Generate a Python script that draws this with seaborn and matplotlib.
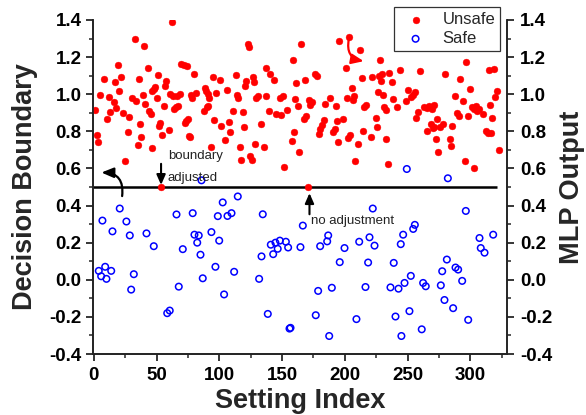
import matplotlib
matplotlib.use("Agg")
import matplotlib.pyplot as plt
import seaborn as sns
import pandas as pd

# ---------------- data ----------------
unsafe_x = [0.6, 2.2, 3.2, 4.8, 8, 10.7, 12, 13, 16, 16.7, 18, 19, 20.2, 22, 22.9, 25, 27, 27.9, 30.6, 32.7,
            34, 35, 36.2, 37, 38, 39, 39.8, 41.2, 43, 43.8, 45.2, 46, 46.5, 47.8, 49.1, 50, 51, 52.3, 53.1, 53.9,
            54.7, 55.8, 57.1, 57.9, 60, 61.1, 62.7, 63.7, 65.3, 66.9, 63.2, 66.0, 68.5, 69.6, 71.7, 74.4, 72.5, 73.8, 74.9, 76,
            77, 77.2, 78.4, 79.6, 81.8, 87.6, 90.3, 91.1, 88.4, 89, 91.1, 91.9, 93, 94.8, 95.6, 97.7, 100.9, 101.7, 104.9, 105.9,
            107.8, 108.9, 110.7, 112.9, 113.7, 114.7, 116.8, 117.6, 118.7, 119.5, 120.8, 121.6, 122.7, 123.8, 124.8, 125.8, 126.6, 127.7,
            128.5, 129.6, 130.6, 132.8, 135.7, 136.8, 137.5, 139.4, 140.7, 143.4, 145.5, 149.2, 148.5, 150.8, 151.9, 153.7, 157.5, 158.5,
            159.8, 160.6, 161.4, 162.8, 163.8, 165.2, 167.6, 168.8, 168.6, 170.4, 171.2, 172.6, 173.9, 175.8, 177.9, 179.2, 180.5, 181.9,
            183.2, 184.5, 188.5, 190.3, 191.9, 192.7, 193.8, 194.3, 195.1, 198.6, 200.5, 201.5, 202.3, 203.9, 203.6, 206, 206.6, 207.6,
            208.4, 210.8, 212.4, 213.4, 214.6, 215.6, 216.6, 220.4, 221.4, 224.6, 225.7, 226.5, 227.3, 228.9, 229.9, 228.3, 230.2, 231,
            232.9, 232.6, 234.2, 235.5, 237.3, 238.5, 241.6, 243.7, 248.5, 250.1, 252.8, 254.4, 256.2, 257, 258, 260.2, 262.9, 265,
            267.2, 269.2, 271.3, 265.5, 268.2, 269.8, 271.3, 272.4, 273.5, 274.3, 276.1, 278.3, 280.1, 283.5, 284.7, 285.4, 287.3, 288.9,
            290.7, 292, 294.2, 295.5, 296.8, 298.2, 299.4, 301.4, 303.2, 304.6, 305.4, 306.6, 310.1, 303.2, 312, 313.8, 316.7, 314.6,
            319.1, 315.4, 317.3, 319.9, 321.3, 322.6]
unsafe_y = [0.916, 0.782, 0.742, 0.997, 1.082, 0.867, 0.984, 0.903, 0.957, 1.067, 0.927, 1.158, 1.015, 1.091, 0.899, 0.641, 0.794, 0.879, 0.981, 1.299,
            0.966, 0.729, 1.082, 0.84, 0.767, 0.995, 1.259, 0.948, 1.143, 0.912, 0.894, 0.71, 1.017, 1.03, 1.038, 0.979, 1.102, 0.831, 0.843, 0.5,
            0.78, 0.939, 1.042, 1.069, 0.809, 1.0, 1.39, 0.921, 0.93, 0.937, 0.99, 0.992, 1.003, 1.165, 1.158, 1.151, 0.845, 0.858, 0.865, 0.775,
            0.771, 0.997, 0.979, 1.111, 1.007, 0.912, 0.93, 0.934, 1.035, 1.02, 0.999, 0.977, 0.717, 1.091, 0.861, 1.007, 1.075, 0.829, 0.753, 1.022,
            0.851, 0.798, 0.91, 1.103, 0.997, 0.981, 0.713, 0.645, 0.903, 0.821, 1.042, 1.071, 1.268, 1.252, 0.668, 0.648, 1.093, 1.068,
            0.734, 0.979, 0.993, 0.84, 0.717, 0.993, 1.141, 0.908, 1.111, 1.075, 0.894, 0.89, 0.981, 0.988, 0.608, 0.916, 0.749, 1.183,
            0.794, 0.973, 1.062, 0.937, 0.691, 1.273, 0.865, 0.885, 1.075, 0.5, 0.971, 0.943, 0.957, 1.107, 1.096, 0.786, 0.813, 0.836,
            0.861, 0.948, 0.981, 0.794, 0.813, 0.934, 0.858, 0.74, 1.286, 0.865, 1.141, 0.981, 0.764, 0.782, 1.31, 1.033, 0.971, 0.988,
            0.641, 0.731, 1.237, 1.089, 0.803, 0.93, 0.944, 0.767, 1.091, 0.872, 0.821, 1.01, 1.1, 1.071, 1.107, 1.187, 0.997, 0.93,
            0.916, 0.76, 0.625, 1.114, 1.067, 0.973, 0.93, 1.133, 0.962, 1.024, 0.984, 0.995, 1.011, 0.872, 0.903, 1.127, 0.93, 0.926,
            0.934, 0.919, 0.941, 0.8, 0.84, 0.818, 0.825, 0.758, 0.867, 0.686, 0.825, 0.84, 1.107, 0.758, 0.72, 0.827, 0.992, 0.901,
            0.883, 1.082, 0.966, 0.641, 1.176, 0.883, 1.027, 0.93, 0.921, 0.934, 0.907, 0.919, 0.894, 0.604, 0.8, 0.793, 0.789, 1.13,
            1.136, 0.943, 0.872, 0.984, 1.017, 0.70]

safe_x = [4, 5.9, 6.9, 9.1, 10.1, 13.9, 14.9, 20.7, 26, 28.7, 29.8, 31.9, 42, 47.8, 58.5, 60.5, 65.9, 67.7, 70.9, 78.8,
          80.2, 83.6, 82.4, 85, 85.8, 86.8, 93.7, 96.9, 98.8, 99.9, 102.7, 103.8, 106.5, 109.7, 111.8, 114.7, 131.7, 133.6, 134.6, 138.6,
          141, 142.9, 144.7, 146.5, 148.2, 153, 154.8, 155.9, 156.7, 164.6, 166.5, 176.8, 178.7, 180.3, 185.9, 186.7, 187.5, 189.6, 195.9, 199.7,
          209.2, 211.4, 216.4, 218.5, 219.6, 222.2, 223.6, 236.3, 242.7, 238.9, 240.3, 244.5, 245, 246.4, 247.5, 249.3, 251.4, 252.5, 254.4, 255.7,
          261.2, 262.3, 264.4, 276.4, 277.5, 279.3, 281.2, 282, 286.2, 288.1, 290.2, 293.4, 296.3, 298.2, 307.2, 308.2, 311.2, 318.1]
safe_y = [0.048, 0.019, 0.319, 0.07, 0.005, 0.048, 0.261, 0.384, 0.314, 0.239, -0.053, 0.03, 0.25, 0.181, -0.18, -0.166, 0.352, -0.037, 0.165, 0.359,
          0.243, 0.239, 0.2, 0.135, 0.536, 0.008, 0.257, 0.07, 0.343, 0.211, 0.417, -0.079, 0.344, 0.359, 0.043, 0.449, 0.005, 0.126, 0.353, -0.184,
          0.189, 0.138, 0.2, 0.167, 0.211, 0.205, 0.174, -0.263, -0.259, 0.176, 0.292, -0.191, -0.06, 0.181, 0.207, 0.239, -0.303, -0.043, 0.095, 0.171,
          -0.212, 0.205, -0.039, 0.093, 0.229, 0.384, 0.184, -0.041, -0.048, 0.091, -0.198, 0.192, -0.303, 0.243, -0.017, 0.597, -0.169, 0.021, 0.274, 0.296,
          -0.267, -0.017, -0.035, -0.03, 0.046, -0.109, 0.109, 0.547, -0.153, 0.066, 0.055, -0.006, 0.371, -0.216, 0.225, 0.171, 0.146, 0.243]

boundary = 0.5
boundary_x_range = [-1, 321.5]
x_ticks = [0, 50, 100, 150, 200, 250, 300]
y_ticks = [-0.4, -0.2, 0.0, 0.2, 0.4, 0.6, 0.8, 1.0, 1.2, 1.4]
y_ticklabels = ["-0.4", "-0.2", "0.0", "0.2", "0.4", "0.6", "0.8", "1.0", "1.2", "1.4"]

# annotation anchors (data units)
adj_arrow = ((53.6, 0.625), (53.6, 0.511))
noadj_arrow = ((171.8, 0.353), (171.8, 0.467))
left_curve = ((22.6, 0.451), (6.1, 0.578))
top_curve = ((203.1, 1.295), (215.0, 1.178))

# ---------------- plot ----------------
sns.set_theme(style="ticks")
plt.rcParams['font.family'] = ['Liberation Sans', 'DejaVu Sans']

fig = plt.figure(figsize=(5.86, 4.15), dpi=100)
ax = fig.add_axes([92.5/586, 61/415, 415/586, 334/415])

df_u = pd.DataFrame({"x": unsafe_x, "y": unsafe_y})
df_s = pd.DataFrame({"x": safe_x, "y": safe_y})

ax.hlines(boundary, boundary_x_range[0], boundary_x_range[1], color="black", lw=1.8, zorder=1)
sns.scatterplot(data=df_u, x="x", y="y", ax=ax, color="#FF0000", edgecolor="#FF0000",
                s=24, linewidth=0.3, label="Unsafe", zorder=3)
sns.scatterplot(data=df_s, x="x", y="y", ax=ax, facecolor="none", edgecolor="#0000FF",
                s=22, linewidth=1.1, label="Safe", zorder=3)

ax.set_xlim(-1, 329.5)
ax.set_ylim(-0.4, 1.4)
ax.set_xticks(x_ticks)
ax.set_xticks([v + 25 for v in x_ticks], minor=True)
ax.set_yticks(y_ticks)
ax.set_yticklabels(y_ticklabels)
ax.set_yticks([v + 0.1 for v in y_ticks[:-1]], minor=True)

for sp in ["left", "right", "bottom"]:
    ax.spines[sp].set_linewidth(1.1)
    ax.spines[sp].set_color("black")
ax.spines["top"].set_visible(False)

ax.tick_params(axis="both", which="major", direction="out", length=5, width=1.1, pad=3, labelsize=13.5, colors="black")
ax.tick_params(axis="x", which="major", pad=4)
ax.tick_params(axis="both", which="minor", direction="out", length=3, width=1.1)
for lab in ax.get_xticklabels() + ax.get_yticklabels():
    lab.set_fontweight("bold")

ax.set_xlabel("Setting Index", fontsize=19.5, fontweight="bold", labelpad=3)
ax.set_ylabel("Decision Boundary", fontsize=19.5, fontweight="bold", labelpad=8)

ax2 = ax.twinx()
ax2.set_ylim(-0.4, 1.4)
ax2.set_yticks(y_ticks)
ax2.set_yticklabels(y_ticklabels)
ax2.set_yticks([v + 0.1 for v in y_ticks[:-1]], minor=True)
ax2.spines["top"].set_visible(False)
ax2.spines["right"].set_linewidth(1.1)
ax2.tick_params(axis="y", which="major", direction="out", length=5, width=1.1, pad=4, labelsize=13.5, colors="black")
ax2.tick_params(axis="y", which="minor", direction="out", length=3, width=1.1)
for lab in ax2.get_yticklabels():
    lab.set_fontweight("bold")
ax2.set_ylabel("MLP Output", fontsize=19.5, fontweight="bold", labelpad=5)

# annotations
arrow_kw = dict(arrowstyle="-|>,head_length=0.5,head_width=0.22", color="black", lw=1.5, shrinkA=0, shrinkB=0)
ax.annotate("", xy=adj_arrow[1], xytext=adj_arrow[0], arrowprops=arrow_kw, zorder=4)
ax.annotate("", xy=noadj_arrow[1], xytext=noadj_arrow[0], arrowprops=arrow_kw, zorder=4)
ax.text(59, 0.65, "boundary", fontsize=9.5, color="#222222", va="baseline", ha="left")
ax.text(59, 0.532, "adjusted", fontsize=9.5, color="#222222", va="baseline", ha="left")
ax.text(173.1, 0.301, "no adjustment", fontsize=9.5, color="#222222", va="baseline", ha="left")

curve_kw = dict(arrowstyle="-|>,head_length=0.6,head_width=0.25", lw=1.6, shrinkA=0, shrinkB=0)
ax.annotate("", xy=left_curve[1], xytext=left_curve[0],
            arrowprops=dict(color="black", connectionstyle="arc3,rad=0.55", **curve_kw))
ax.annotate("", xy=top_curve[1], xytext=top_curve[0],
            arrowprops=dict(color="#FF0000", connectionstyle="arc3,rad=0.5", **curve_kw))

leg = ax.legend(loc="upper right", bbox_to_anchor=(500/586, 408/415), bbox_transform=fig.transFigure,
                fontsize=12, frameon=True, fancybox=False, borderaxespad=0, handletextpad=0.6,
                borderpad=0.3, labelspacing=0.25, markerscale=1.0)
leg.get_frame().set_edgecolor("black")
leg.get_frame().set_linewidth(0.9)

fig.savefig("out.png", dpi=100)
